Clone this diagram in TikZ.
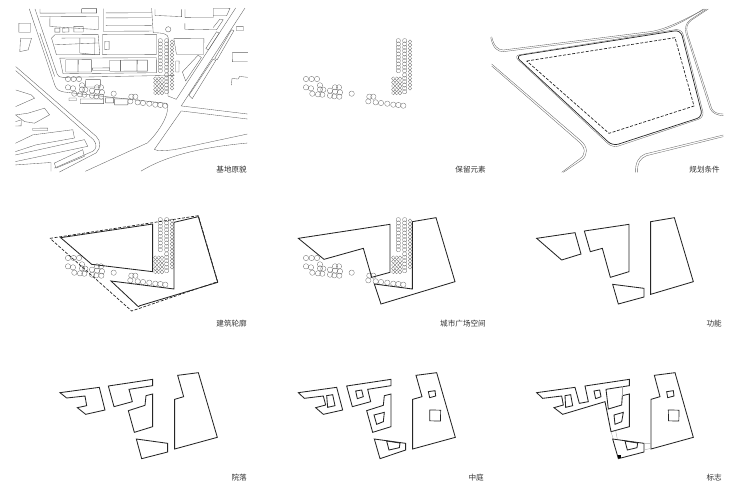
\documentclass[tikz,border=0pt]{standalone}
\usepackage{fontspec}
\newfontfamily\cjk{Noto Sans CJK SC}
\tikzset{
  thinline/.style={draw, line width=0.35pt, color=black!62},
  roadline/.style={draw, line width=0.35pt, color=black!60},
  massline/.style={draw, line width=0.85pt, color=black!85},
  siteline/.style={draw, line width=0.7pt, dash pattern=on 3pt off 1.6pt, color=black!85},
  bridgeline/.style={draw, line width=0.35pt, color=black!35},
  treeline/.style={draw, line width=0.3pt, color=black!60},
  smalltree/.style={draw, line width=0.3pt, color=black!55},
  caption/.style={font=\cjk\fontsize{7.6}{8}\selectfont, anchor=east, inner sep=0pt, text=black!80},
  zoomed/.style={shift={#1}, scale=0.33333},
  trees/.pic={
    \foreach \x/\y in {78/177,95/177,111/177,120/196,78/202,93/205,120/208,130/209,97/221,114/223,127/224,150/212,165/202,177/202,165/215,180/217,150/227,163/229,178/230,215/221,268/230,280/230,265/244,287/247,303/249,322/251,340/254,355/255,370/257}
      \draw[treeline] (\x,\y) circle (8);
    \foreach \y in {62,72,...,155} {
      \draw[smalltree] (355,\y) circle (6.5);
      \draw[smalltree] (374,\y) circle (6.5);
    }
    \foreach \y in {65,75,...,205}
      \draw[smalltree] (390,\y) circle (5.5);
    \foreach \y in {165,175,...,215}
      \draw[smalltree] (374,\y) circle (6.5);
    \foreach \x in {340,350,360}
      \foreach \y in {176,187,198,209,219}
        \draw[smalltree] (\x,\y) circle (5.5);
  }
}
\begin{document}
\begin{tikzpicture}[x=1pt,y=-1pt]
  \useasboundingbox (0,0) rectangle (750,501);

  % base map
  \begin{scope}[zoomed={(0,0)}, xslant=0.004, yslant=0.004]
    \draw[thinline] (88,27) -- (165,255) .. controls (170,270) and (180,275) .. (195,277) -- (500,312) .. controls (515,330) and (490,385) .. (445,430) -- (258,515);
    \draw[thinline] (105,27) -- (172,222) .. controls (175,230) and (180,233) .. (190,233) -- (525,228);
    \draw[thinline] (120,100) -- (165,230);
    \draw[thinline] (707,27) -- (530,300) -- (505,290) -- (505,115) .. controls (505,105) and (490,100) .. (460,100) -- (455,27);
    \draw[thinline] (735,27) -- (545,320) -- (744,345);
    \draw[thinline] (744,405) -- (530,450) .. controls (500,455) and (470,455) .. (465,450) -- (545,335) -- (744,360);
    \draw[thinline] (744,432) .. controls (600,445) and (500,470) .. (425,515);
    \draw[thinline] (48,200) -- (290,410) .. controls (305,425) and (305,445) .. (290,460) -- (180,517);
    \draw[thinline] (48,212) -- (282,420) .. controls (295,435) and (290,450) .. (280,455) -- (165,505);
    % upper blocks
    \draw[thinline] (120,27) -- (120,40) -- (290,40) -- (290,27);
    \draw[thinline] (245,27) rectangle (290,40);
    \draw[thinline] (120,50) -- (150,50) -- (295,50) -- (295,90) -- (150,80) -- (150,50);
    \draw[thinline] (165,85) rectangle (180,97);
    \draw[thinline] (188,85) rectangle (207,97);
    \draw[thinline] (222,80) rectangle (250,97);
    \draw[thinline] (310,27) -- (310,95) -- (455,95);
    \draw[thinline] (318,40) -- (455,40);
    \draw[thinline] (318,55) -- (455,55);
    \draw[thinline] (318,78) -- (455,78);
    \draw[thinline] (465,30) -- (465,48) -- (545,52) -- (545,30);
    \draw[thinline] (555,30) -- (555,55) -- (640,55) -- (640,28) -- (690,28) -- (680,50) -- (640,50);
    \draw[thinline] (555,72) -- (555,90) -- (650,92) -- (670,62) -- (660,60) -- (640,85);
    \draw[thinline] (505,90) circle (8);
    \draw[thinline] (710,82) rectangle (730,95);
    % middle blocks
    \draw[thinline] (155,115) -- (165,105) -- (295,105) -- (300,165) -- (170,165) -- (155,115);
    \draw[thinline] (165,135) -- (295,130);
    \draw[thinline] (185,115) -- (285,115);
    \draw[thinline] (240,115) -- (240,160) -- (285,165) -- (285,115);
    \draw[thinline] (308,105) -- (470,105) -- (470,165) -- (308,165) -- cycle;
    \draw[thinline] (315,125) rectangle (328,150);
    \draw[thinline] (180,175) -- (470,175) -- (470,220) -- (190,222) -- cycle;
    \draw[thinline] (198,180) rectangle (235,217);
    \draw[thinline] (235,180) rectangle (275,217);
    \draw[thinline] (278,205) rectangle (330,212);
    \draw[thinline] (330,182) rectangle (362,215);
    \draw[thinline] (362,182) rectangle (412,215);
    \draw[thinline] (412,182) rectangle (443,215);
    \draw[thinline] (522,118) -- (612,118) -- (612,165) -- (530,165) -- (522,118);
    \draw[thinline] (528,185) rectangle (538,218);
    \draw[thinline] (548,218) -- (595,168) -- (605,175) -- (558,245) -- cycle;
    \draw[thinline] (618,148) -- (650,98) -- (658,102) -- (626,152) -- cycle;
    \draw[thinline] (568,288) -- (640,180) -- (648,184) -- (578,298) -- cycle;
    \draw[thinline] (645,178) -- (695,92) -- (702,95) -- (652,182) -- cycle;
    \draw[thinline] (744,160) -- (698,160) -- (698,188) -- (744,188);
    \draw[thinline] (695,258) -- (697,238) -- (715,240) -- (720,232) -- (744,235);
    % buildings by the south road
    \draw[thinline] (242,298) rectangle (312,312);
    \draw[thinline] (208,295) rectangle (230,303);
    \draw[thinline] (318,295) rectangle (342,310);
    \draw[thinline] (345,298) rectangle (385,316);
    \draw[thinline] (258,240) rectangle (302,262);
    % housing to the west
    \draw[thinline] (57,70) rectangle (92,97);
    \draw[thinline] (62,115) -- (95,115) -- (85,150) -- (60,155) -- cycle;
    \draw[thinline] (48,270) -- (95,285) -- (105,295) -- (48,320);
    \draw[thinline] (48,345) -- (85,340) -- (135,325) -- (150,345) -- (105,370) -- (75,365) -- cycle;
    \draw[thinline] (48,365) -- (65,360) -- (65,378) -- (48,378);
    \draw[thinline] (100,385) rectangle (145,392);
    \draw[thinline] (48,430) -- (100,405) -- (220,390) -- (225,415) -- (110,435) -- (48,455);
    \draw[thinline] (48,465) -- (255,420) -- (265,440) -- (48,485);
    \draw[thinline] (165,490) -- (250,450) -- (255,470) -- (170,505) -- cycle;
    \draw[thinline] (48,495) -- (155,488) -- (155,515);
  \end{scope}
  \pic[zoomed={(42,20)}] {trees};
  \node[caption] (capbase) at (247,170) {基地原貌};

  % kept trees
  \pic[zoomed={(280,20)}] {trees};
  \node[caption] (capkeep) at (486,170) {保留元素};

  % planning limits
  \begin{scope}[zoomed={(490,0)}]
    \draw[roadline] (5,110) .. controls (12,140) and (25,150) .. (40,150) -- (480,95) .. controls (530,88) and (590,55) .. (645,27);
    \draw[roadline] (2,112) .. controls (9,145) and (22,155) .. (40,155) -- (480,100) .. controls (530,93) and (590,60) .. (640,27);
    \draw[roadline] (655,27) -- (605,60) .. controls (590,70) and (588,85) .. (592,100) -- (665,325) .. controls (670,338) and (685,342) .. (700,342);
    \draw[roadline] (650,27) -- (600,60) .. controls (587,70) and (584,85) .. (588,100) -- (660,325) .. controls (665,340) and (685,347) .. (700,347);
    \draw[roadline] (5,192) -- (270,420) .. controls (295,440) and (295,465) .. (275,480) -- (220,517);
    \draw[roadline] (5,198) -- (265,424) .. controls (288,444) and (288,462) .. (270,476) -- (215,517);
    \draw[roadline] (437,517) .. controls (435,490) and (445,470) .. (465,462) -- (700,405);
    \draw[roadline] (443,517) .. controls (441,490) and (450,475) .. (470,467) -- (700,410);
    \draw[massline, line width=0.7pt, rounded corners=6pt] (76,168) -- (572,90) -- (638,350) -- (368,438) -- cycle;
    \draw[roadline, rounded corners=6pt] (71,167) -- (575,86) -- (643,352) -- (368,444) -- cycle;
    \draw[siteline] (110,183) -- (555,113) -- (612,318) -- (357,400) -- cycle;
  \end{scope}
  \node[caption] (capplan) at (720,170) {规划条件};

  % building outline
  \pic[zoomed={(42,199)}] {trees};
  \begin{scope}[zoomed={(30,200)}]
    \draw[siteline] (60,115) -- (505,47) -- (563,245) -- (305,333) -- cycle;
    \draw[massline] (92,113) -- (368,72) -- (368,215) -- (185,193) -- cycle;
    \draw[massline] (432,67) -- (505,50) -- (563,247) -- (330,317) -- (325,320) -- (243,243) -- (432,267) -- cycle;
  \end{scope}
  \node[caption] (capoutline) at (247,324) {建筑轮廓};

  % square
  \pic[zoomed={(280,199)}] {trees};
  \begin{scope}[zoomed={(280,200)}]
    \draw[massline] (55,115) -- (330,73) -- (330,217) -- (275,232) -- (250,145) -- (132,178) -- cycle;
    \draw[massline] (397,65) -- (468,53) -- (525,245) -- (303,312) -- (283,252) -- (397,267) -- cycle;
  \end{scope}
  \node[caption] (capsquare) at (486,324) {城市广场空间};

  % functions
  \begin{scope}[zoomed={(520,200)}]
    \draw[massline] (50,115) -- (165,98) -- (183,162) -- (125,180) -- cycle;
    \draw[massline] (193,93) -- (327,73) -- (327,215) -- (271,232) -- (247,145) -- (211,155) -- cycle;
    \draw[massline] (392,65) -- (463,53) -- (520,245) -- (392,283) -- cycle;
    \draw[massline] (278,253) -- (372,265) -- (372,291) -- (295,312) -- cycle;
  \end{scope}
  \node[caption] (capfunc) at (722,324) {功能};

  % courtyards
  \begin{scope}[zoomed={(40,360)}]
    \draw[massline] (60,98) -- (178,82) -- (195,150) -- (137,163) -- (112,143) -- (140,137) -- (135,108) -- (80,114) -- cycle;
    \draw[massline] (205,78) -- (338,58) -- (338,77) -- (267,88) -- (277,125) -- (222,140) -- cycle;
    \draw[massline] (338,102) -- (338,200) -- (283,217) -- (265,152) -- (315,136) -- (318,107) -- cycle;
    \draw[massline] (289,237) -- (383,250) -- (383,276) -- (305,296) -- cycle;
    \draw[massline] (413,46) -- (475,38) -- (532,232) -- (404,267) -- (404,118) -- (431,110) -- cycle;
  \end{scope}
  \node[caption] (capcourt) at (247,478) {院落};

  % inner courts
  \begin{scope}[zoomed={(285,360)}]
    \draw[massline] (40,98) -- (155,82) -- (173,150) -- (115,163) -- (92,143) -- (122,135) -- (115,108) -- (58,115) -- cycle;
    \draw[massline] (125,107) -- (143,104) -- (150,137) -- (128,142) -- cycle;
    \draw[massline] (185,78) -- (318,58) -- (318,77) -- (248,88) -- (257,125) -- (202,140) -- cycle;
    \draw[massline] (212,93) -- (230,90) -- (235,110) -- (217,116) -- cycle;
    \draw[massline] (318,102) -- (318,200) -- (263,217) -- (245,152) -- (295,136) -- (298,107) -- cycle;
    \draw[massline] (267,165) -- (298,157) -- (295,185) -- (275,193) -- cycle;
    \draw[massline] (268,237) -- (362,250) -- (362,270) -- (285,296) -- cycle;
    \draw[massline] (305,243) -- (345,249) -- (343,263) -- (312,270) -- cycle;
    \draw[massline] (393,46) -- (455,38) -- (511,232) -- (383,267) -- (383,118) -- (411,110) -- cycle;
    \draw[massline] (430,95) -- (450,92) -- (452,108) -- (434,113) -- cycle;
    \draw[massline, line width=0.7pt] (434,150) -- (467,150.5) -- (466.5,183) -- (434.5,182.5) -- cycle;
  \end{scope}
  \node[caption] (capinner) at (484,478) {中庭};

  % landmark
  \begin{scope}[zoomed={(525,360)}]
    \draw[massline] (35,98) -- (150,82) -- (163,130) -- (190,125) -- (180,78) -- (313,58) -- (313,77) -- (243,88) -- (250,147) -- (290,135) -- (292,107) -- (313,102) -- (313,200) -- (258,215) -- (240,125) -- (113,163) -- (87,143) -- (115,135) -- (110,108) -- (53,115) -- cycle;
    \draw[massline] (120,107) -- (137,104) -- (143,137) -- (122,142) -- cycle;
    \draw[massline] (207,93) -- (224,90) -- (228,110) -- (212,116) -- cycle;
    \draw[massline] (267,165) -- (295,157) -- (290,185) -- (270,193) -- cycle;
    \draw[massline] (263,237) -- (357,250) -- (357,276) -- (280,296) -- cycle;
    \draw[massline] (300,243) -- (338,249) -- (336,263) -- (307,270) -- cycle;
    \draw[massline] (388,46) -- (450,38) -- (505,232) -- (378,267) -- (378,118) -- (405,110) -- cycle;
    \draw[massline] (425,95) -- (445,92) -- (447,108) -- (428,113) -- cycle;
    \draw[massline, line width=0.7pt] (430,150) -- (462,150.5) -- (461.5,183) -- (430.5,182.5) -- cycle;
    \draw[bridgeline] (292,78) -- (292,107);
    \draw[bridgeline] (258,215) -- (265,238) (272,212) -- (277,238);
    \draw[bridgeline] (357,250) -- (378,250) (357,270) -- (378,265);
    \fill[black] (278,285) rectangle (288,295);
  \end{scope}
  \node[caption] (capmark) at (722,478) {标志};
\end{tikzpicture}
\end{document}
